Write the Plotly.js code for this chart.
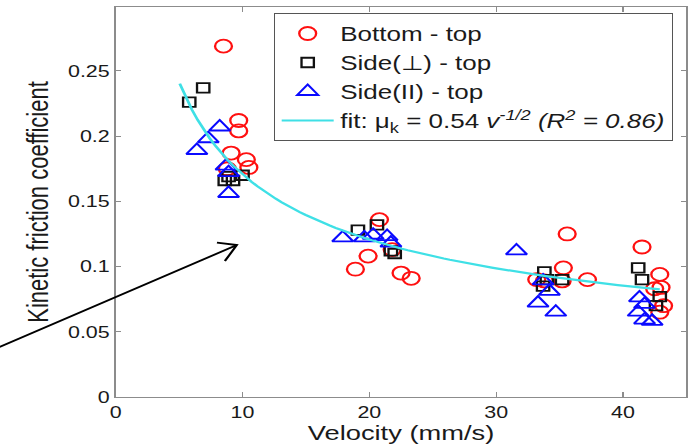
<!DOCTYPE html>
<html>
<head>
<meta charset="utf-8">
<script src="https://cdn.plot.ly/plotly-3.0.1.min.js"></script>
<style>
  html, body { margin: 0; padding: 0; background: #ffffff; overflow: hidden; }
  #frame { width: 693px; height: 446px; overflow: hidden; }
  /* the figure is laid out narrower and widened horizontally, giving its wide lettering */
  #chart { transform-origin: 0 0; }
</style>
</head>
<body>
<div id="frame"><div id="chart"></div></div>
<script>
// Kinetic friction coefficient vs sliding velocity, three contact configurations
const bottomVelocity = [8.5, 9.7, 9.7, 9.1, 10.3, 10.5, 8.8,
  20.8, 19.9, 18.9, 22.5, 23.3, 21.8,
  35.6, 35.3, 33.2, 35.2, 37.2, 33.8,
  41.5, 42.9, 43.0, 43.2, 42.9, 42.5];
const bottomMu = [0.269, 0.212, 0.204, 0.187, 0.182, 0.176, 0.175,
  0.136, 0.108, 0.098, 0.095, 0.091, 0.113,
  0.125, 0.099, 0.090, 0.089, 0.090, 0.089,
  0.115, 0.094, 0.084, 0.070, 0.065, 0.083];

const sidePerpVelocity = [6.9, 5.8, 8.6, 9.25, 10.0, 8.9,
  19.1, 20.6, 21.7, 22.0,
  33.8, 34.0, 35.2, 33.7,
  41.2, 41.5, 42.9, 42.6];
const sidePerpMu = [0.237, 0.226, 0.166, 0.166, 0.170, 0.169,
  0.128, 0.132, 0.112, 0.110,
  0.096, 0.090, 0.090, 0.085,
  0.099, 0.090, 0.077, 0.070];

const sideParVelocity = [8.2, 7.3, 6.4, 8.7, 8.9, 8.9,
  17.9, 19.6, 21.4, 21.7, 20.3,
  31.6, 33.7, 34.2, 33.3, 34.7,
  41.3, 41.7, 41.2, 41.7, 42.3];
const sideParMu = [0.207, 0.198, 0.189, 0.177, 0.172, 0.156,
  0.122, 0.122, 0.123, 0.118, 0.124,
  0.112, 0.089, 0.081, 0.072, 0.065,
  0.076, 0.071, 0.065, 0.059, 0.058];

// Power-law fit mu_k = 0.54 v^(-1/2), drawn over the measured velocity span
const fitCoefficient = 0.54;
const fitExponent = -0.5;
const fitVelocityStart = 5.05;
const fitVelocityEnd = 42.9;

const xTickValues = [0, 10, 20, 30, 40];
const yTickValues = [0, 0.05, 0.1, 0.15, 0.2, 0.25];
const yTickLabels = ['0', '0.05', '0.1', '0.15', '0.2', '0.25'];

const fitVelocity = [];
const fitMu = [];
const fitSteps = 80;
for (let i = 0; i <= fitSteps; i++) {
  const v = fitVelocityStart + (fitVelocityEnd - fitVelocityStart) * i / fitSteps;
  fitVelocity.push(v);
  fitMu.push(fitCoefficient * Math.pow(v, fitExponent));
}

const FONT = 'Liberation Sans, Arial, Helvetica, sans-serif';
const axisGray = '#8c8c8c';
const textColor = '#1a1a1a';

// Final on-screen size and horizontal widening
const W = 693, H = 446;
const stretch = 1.3;
const drawW = W / stretch;

// Plot-area edges on screen
const plotLeft = 116, plotRight = 686, plotTop = 7, plotBottom = 397;
const mL = plotLeft / stretch, mR = (W - plotRight) / stretch;
const mT = plotTop, mB = H - plotBottom;
const toPaperX = px => (px - plotLeft) / (plotRight - plotLeft);
const toPaperY = py => (plotBottom - py) / (plotBottom - plotTop);

const traces = [
  {
    x: bottomVelocity, y: bottomMu, type: 'scatter', mode: 'markers',
    name: 'Bottom - top',
    marker: { symbol: 'circle-open', size: 13, color: '#ff1010', line: { width: 1.8 } }
  },
  {
    x: sidePerpVelocity, y: sidePerpMu, type: 'scatter', mode: 'markers',
    name: 'Side(\u22a5) - top',
    marker: { symbol: 'square-open', size: 9.5, color: '#111111', line: { width: 1.8 } }
  },
  {
    x: sideParVelocity, y: sideParMu, type: 'scatter', mode: 'markers',
    name: 'Side(II) - top',
    marker: { symbol: 'triangle-up-open', size: 14, color: '#0a0aff', line: { width: 1.8 } }
  },
  {
    x: fitVelocity, y: fitMu, type: 'scatter', mode: 'lines',
    name: 'fit: \u03bc<sub>k</sub> = 0.54 <i>v</i><sup><i>-1/2</i></sup> <i>(R<sup>2</sup> = 0.86)</i>',
    line: { color: '#3fe0e6', width: 2.2 }
  }
];

// Pointer arrow (open V head), given in screen pixels and converted to paper units
const arrowTail = [0, 347];
const arrowHead = [237, 245];
const headLen = 20;
const dx = arrowTail[0] - arrowHead[0], dy = arrowTail[1] - arrowHead[1];
const dl = Math.hypot(dx, dy);
const ux = dx / dl, uy = dy / dl;
const rot = (a) => [ux * Math.cos(a) - uy * Math.sin(a), ux * Math.sin(a) + uy * Math.cos(a)];
const arm1 = rot(Math.PI / 6), arm2 = rot(-Math.PI / 6);
const P = (px, py) => toPaperX(px).toFixed(4) + ',' + toPaperY(py).toFixed(4);
const arrowPath =
  'M' + P(arrowTail[0], arrowTail[1]) + ' L' + P(arrowHead[0], arrowHead[1]) +
  ' M' + P(arrowHead[0] + arm1[0] * headLen, arrowHead[1] + arm1[1] * headLen) +
  ' L' + P(arrowHead[0], arrowHead[1]) +
  ' L' + P(arrowHead[0] + arm2[0] * headLen, arrowHead[1] + arm2[1] * headLen);

const layout = {
  width: drawW, height: H,
  margin: { l: mL, r: mR, t: mT, b: mB, pad: 0 },
  paper_bgcolor: '#ffffff',
  plot_bgcolor: '#ffffff',
  font: { family: FONT, size: 16, color: textColor },
  showlegend: true,
  legend: {
    x: toPaperX(274), y: toPaperY(13), xanchor: 'left', yanchor: 'top',
    bgcolor: '#ffffff', bordercolor: '#555555', borderwidth: 1,
    font: { family: FONT, size: 20, color: textColor },
    itemwidth: 40
  },
  xaxis: {
    range: [0, 45],
    tickvals: xTickValues,
    ticks: 'inside', ticklen: 5, tickcolor: axisGray, tickwidth: 1,
    showline: true, linecolor: axisGray, linewidth: 1.3, mirror: 'ticks',
    showgrid: false, zeroline: false,
    tickfont: { family: FONT, size: 16.5, color: textColor },
    title: { text: 'Velocity (mm/s)', font: { family: FONT, size: 21, color: textColor }, standoff: 1 }
  },
  yaxis: {
    range: [0, 0.299],
    tickvals: yTickValues, ticktext: yTickLabels,
    ticks: 'inside', ticklen: 4, tickcolor: axisGray, tickwidth: 1,
    showline: true, linecolor: axisGray, linewidth: 1.3, mirror: 'ticks',
    showgrid: false, zeroline: false,
    tickfont: { family: FONT, size: 16.5, color: textColor },
    title: { text: 'Kinetic friction coefficient', font: { family: FONT, size: 22, color: textColor }, standoff: 8 }
  },
  shapes: [
    {
      type: 'path', xref: 'paper', yref: 'paper', layer: 'above',
      path: arrowPath,
      line: { color: '#000000', width: 1.8 }
    }
  ]
};

const chartDiv = document.getElementById('chart');
chartDiv.style.width = drawW + 'px';
chartDiv.style.height = H + 'px';
chartDiv.style.transform = 'scale(' + stretch + ', 1)';
Plotly.newPlot(chartDiv, traces, layout, { displayModeBar: false, staticPlot: true });
</script>
</body>
</html>
